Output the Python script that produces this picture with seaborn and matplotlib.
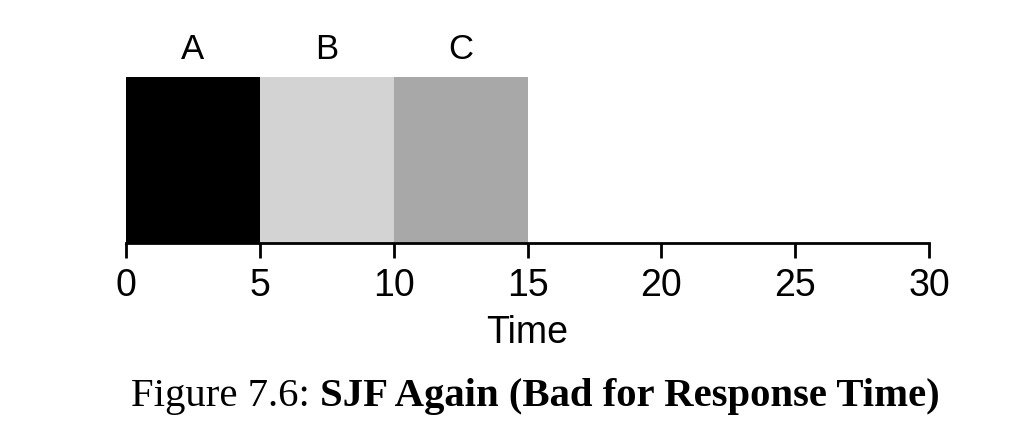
import numpy as np
import pandas as pd
import seaborn as sns
import matplotlib.pyplot as plt

# job schedule (SJF, all arrive at t=0)
jobs = ['A', 'B', 'C']
starts = [0, 5, 10]
lengths = [5, 5, 5]
colors = ['#000000', '#d3d3d3', '#a8a8a8']
ticks = [0, 5, 10, 15, 20, 25, 30]

sns.set_style('white')
plt.rcParams['font.family'] = ['Liberation Sans', 'DejaVu Sans']
plt.rcParams['text.color'] = 'black'
plt.rcParams['axes.labelcolor'] = 'black'
plt.rcParams['xtick.color'] = 'black'

df = pd.DataFrame({'job': jobs,
                   'mid': [s + l / 2 for s, l in zip(starts, lengths)],
                   'w': [1.0] * len(jobs)})
edges = sorted(set(starts + [s + l for s, l in zip(starts, lengths)]))

fig = plt.figure(figsize=(10.14, 4.36), dpi=100)
ax = fig.add_axes([126 / 1014, (436 - 243) / 436, 803 / 1014, 166.3 / 436])

sns.histplot(data=df, x='mid', weights='w', hue='job', bins=edges,
             palette=dict(zip(jobs, colors)), alpha=1, linewidth=0,
             multiple='layer', legend=False, ax=ax)

for j, s, l in zip(jobs, starts, lengths):
    ax.text(s + l / 2, 1.165, j, ha='center', va='center', fontsize=25)

ax.set_xlim(0, 30)
ax.set_ylim(0, 1)
ax.set_xticks(ticks)
ax.set_yticks([])
ax.set_ylabel('')
ax.set_xlabel('Time', fontsize=27, labelpad=8)
ax.tick_params(axis='x', labelsize=27, length=11, width=2, pad=7,
               direction='out', bottom=True)
for side in ['left', 'top', 'right']:
    ax.spines[side].set_visible(False)
ax.spines['bottom'].set_linewidth(2)
ax.spines['bottom'].set_color('black')

# caption, normal + bold part
fig.canvas.draw()
r = fig.canvas.get_renderer()
cy = 1 - 396 / 436
t1 = fig.text(131 / 1014, cy, 'Figure 7.6: ', family='Liberation Serif',
              fontsize=29.3, va='center', ha='left')
bb = t1.get_window_extent(r)
fig.text(bb.x1 / 1014, cy, 'SJF Again (Bad for Response Time)',
         family='Liberation Serif', fontsize=29.3, weight='bold', va='center', ha='left')

fig.savefig('out.png', dpi=100)
